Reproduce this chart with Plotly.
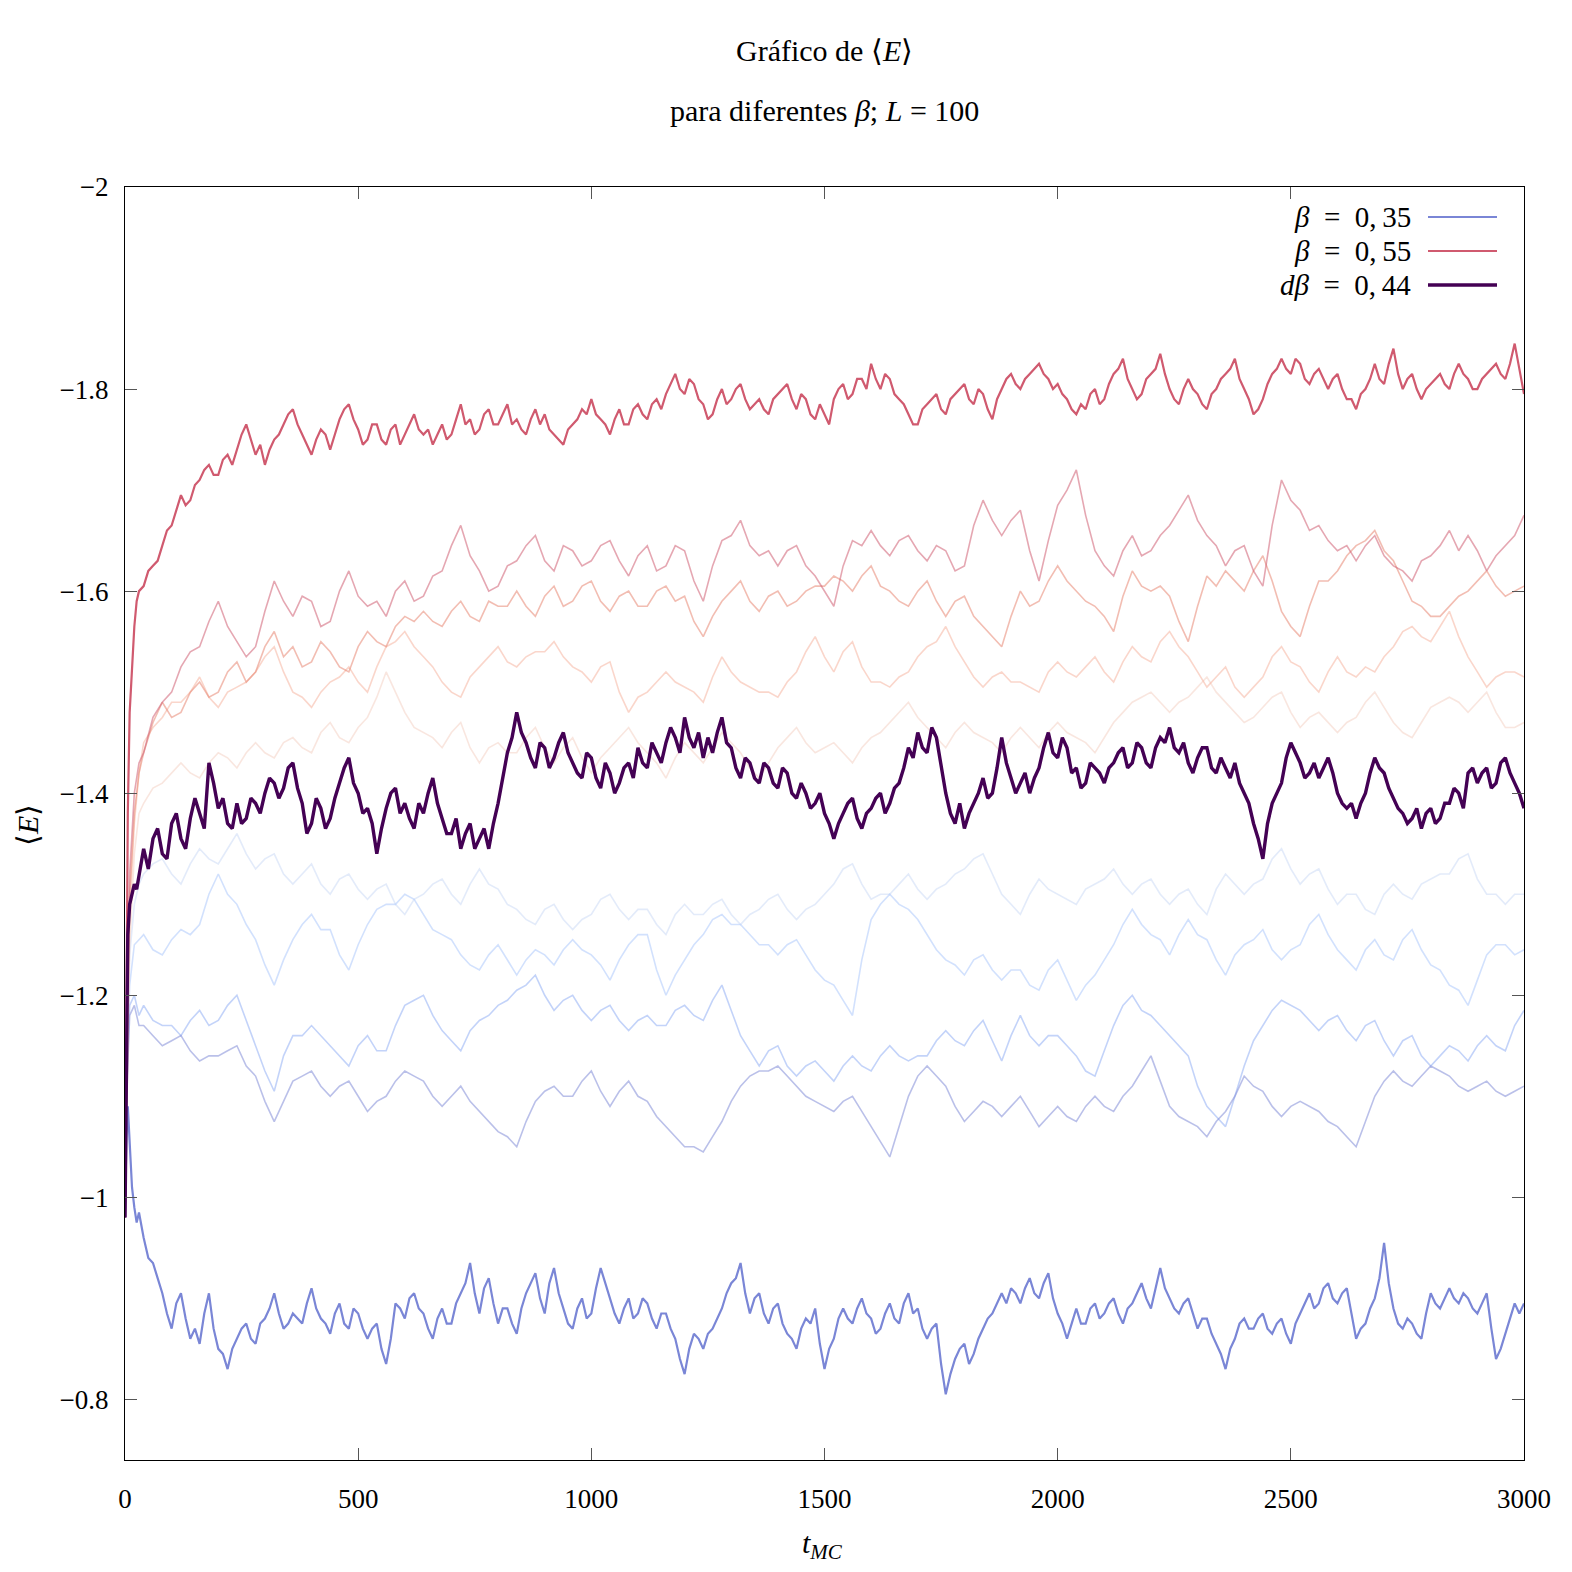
import numpy as np
import plotly.graph_objects as go

# ---------------- data ----------------
# main runs: early points, then values at t = 40, 60, ..., 3000 and the
# in-between excursions at t = 50, 70, ..., 2990
T_MAIN_EARLY = [0, 3, 6, 10, 15, 20, 25, 30]
# faint runs: early points, then t = 40, 80, ..., 3000 and t = 60, 100, ..., 2980
T_FADED_EARLY = [0, 5, 10, 20, 30]

E_B035 = [-0.98, -1.06, -1.09, -1.05, -1.01, -0.99, -0.975, -0.985,
          -0.96, -0.935, -0.905, -0.87, -0.905, -0.86, -0.855, -0.905, -0.85, -0.83,
          -0.86, -0.875, -0.855, -0.88, -0.905, -0.87, -0.885, -0.875, -0.91, -0.88,
          -0.865, -0.895, -0.87, -0.885, -0.86, -0.875, -0.835, -0.895, -0.88, -0.905,
          -0.885, -0.86, -0.89, -0.875, -0.905, -0.935, -0.885, -0.92, -0.875, -0.89,
          -0.865, -0.905, -0.925, -0.885, -0.93, -0.89, -0.87, -0.90, -0.885, -0.93,
          -0.90, -0.875, -0.90, -0.885, -0.895, -0.87, -0.885, -0.86, -0.825, -0.865,
          -0.85, -0.87, -0.89, -0.915, -0.935, -0.885, -0.905, -0.875, -0.895, -0.865,
          -0.85, -0.88, -0.89, -0.83, -0.86, -0.89, -0.875, -0.90, -0.88, -0.87,
          -0.895, -0.875, -0.905, -0.89, -0.86, -0.875, -0.805, -0.84, -0.855, -0.845,
          -0.87, -0.885, -0.905, -0.91, -0.895, -0.92, -0.90, -0.925, -0.885, -0.86,
          -0.89, -0.875, -0.895, -0.885, -0.90, -0.875, -0.895, -0.915, -0.89, -0.93,
          -0.90, -0.885, -0.90, -0.87, -0.88, -0.855, -0.83, -0.86, -0.88, -0.87,
          -0.885, -0.865, -0.88, -0.855, -0.885, -0.905, -0.895, -0.915, -0.895, -0.91,
          -0.86, -0.875, -0.90, -0.955, -0.89, -0.87, -0.875, -0.86, -0.905, -0.89,
          -0.91, -0.895, -0.90, -0.885, -0.905, -0.84, -0.865, -0.895, -0.895]
E_B035_MID = [-0.94, -0.92, -0.885, -0.895, -0.88, -0.87, -0.885, -0.87, -0.845, -0.85,
              -0.87, -0.86, -0.875, -0.89, -0.885, -0.875, -0.88, -0.895, -0.89, -0.875,
              -0.885, -0.875, -0.89, -0.87, -0.87, -0.85, -0.86, -0.89, -0.90, -0.89,
              -0.87, -0.88, -0.875, -0.895, -0.915, -0.905, -0.91, -0.895, -0.89, -0.875,
              -0.89, -0.915, -0.90, -0.915, -0.905, -0.875, -0.89, -0.88, -0.91, -0.915,
              -0.885, -0.89, -0.88, -0.90, -0.88, -0.885, -0.87, -0.84, -0.85, -0.86,
              -0.865, -0.88, -0.905, -0.92, -0.905, -0.90, -0.885, -0.89, -0.875, -0.86,
              -0.87, -0.875, -0.855, -0.85, -0.88, -0.88, -0.89, -0.885, -0.865, -0.885,
              -0.88, -0.895, -0.885, -0.87, -0.87, -0.835, -0.825, -0.85, -0.835, -0.86,
              -0.88, -0.895, -0.895, -0.905, -0.91, -0.905, -0.915, -0.90, -0.875, -0.875,
              -0.875, -0.89, -0.88, -0.895, -0.885, -0.89, -0.905, -0.90, -0.91, -0.91,
              -0.89, -0.895, -0.885, -0.88, -0.865, -0.845, -0.85, -0.875, -0.87, -0.88,
              -0.87, -0.875, -0.865, -0.875, -0.895, -0.89, -0.91, -0.90, -0.905, -0.885,
              -0.87, -0.89, -0.92, -0.915, -0.875, -0.88, -0.865, -0.885, -0.895, -0.90,
              -0.90, -0.905, -0.89, -0.895, -0.87, -0.85, -0.88, -0.885]

E_B055 = [-0.98, -1.22, -1.38, -1.48, -1.53, -1.565, -1.59, -1.60,
          -1.605, -1.625, -1.645, -1.665, -1.695, -1.69, -1.71, -1.725, -1.715, -1.735,
          -1.74, -1.765, -1.735, -1.725, -1.75, -1.765, -1.78, -1.755, -1.735, -1.76,
          -1.74, -1.77, -1.785, -1.76, -1.75, -1.765, -1.745, -1.765, -1.755, -1.775,
          -1.755, -1.745, -1.765, -1.755, -1.785, -1.77, -1.76, -1.78, -1.765, -1.785,
          -1.77, -1.755, -1.78, -1.775, -1.755, -1.745, -1.765, -1.78, -1.79, -1.77,
          -1.755, -1.78, -1.765, -1.785, -1.77, -1.79, -1.795, -1.815, -1.795, -1.805,
          -1.785, -1.775, -1.80, -1.79, -1.805, -1.78, -1.79, -1.775, -1.795, -1.805,
          -1.78, -1.79, -1.77, -1.775, -1.79, -1.805, -1.795, -1.81, -1.825, -1.80,
          -1.81, -1.79, -1.775, -1.765, -1.785, -1.795, -1.775, -1.795, -1.805, -1.785,
          -1.795, -1.77, -1.80, -1.815, -1.80, -1.815, -1.825, -1.81, -1.805, -1.79,
          -1.775, -1.78, -1.80, -1.79, -1.815, -1.83, -1.80, -1.795, -1.815, -1.835,
          -1.80, -1.785, -1.81, -1.795, -1.78, -1.80, -1.815, -1.83, -1.80, -1.775,
          -1.79, -1.815, -1.83, -1.815, -1.825, -1.805, -1.82, -1.80, -1.815, -1.79,
          -1.78, -1.80, -1.825, -1.805, -1.84, -1.80, -1.815, -1.79, -1.805, -1.815,
          -1.80, -1.825, -1.81, -1.80, -1.815, -1.825, -1.81, -1.845, -1.795]
E_B055_MID = [-1.62, -1.63, -1.66, -1.68, -1.685, -1.705, -1.72, -1.715, -1.73, -1.725,
              -1.755, -1.75, -1.745, -1.74, -1.755, -1.775, -1.765, -1.745, -1.75, -1.755,
              -1.755, -1.78, -1.77, -1.745, -1.765, -1.75, -1.76, -1.745, -1.765, -1.76,
              -1.76, -1.755, -1.75, -1.77, -1.765, -1.755, -1.775, -1.765, -1.775, -1.765,
              -1.76, -1.77, -1.765, -1.76, -1.75, -1.76, -1.77, -1.775, -1.775, -1.765,
              -1.77, -1.765, -1.78, -1.775, -1.785, -1.78, -1.805, -1.80, -1.81, -1.79,
              -1.77, -1.79, -1.785, -1.80, -1.79, -1.785, -1.78, -1.79, -1.80, -1.79,
              -1.795, -1.775, -1.785, -1.765, -1.80, -1.79, -1.81, -1.80, -1.81, -1.815,
              -1.795, -1.785, -1.765, -1.78, -1.79, -1.78, -1.79, -1.80, -1.79, -1.80,
              -1.78, -1.79, -1.81, -1.805, -1.81, -1.82, -1.815, -1.80, -1.795, -1.78,
              -1.785, -1.795, -1.785, -1.805, -1.82, -1.81, -1.79, -1.81, -1.82, -1.815,
              -1.79, -1.80, -1.80, -1.785, -1.795, -1.81, -1.82, -1.81, -1.79, -1.78,
              -1.805, -1.82, -1.82, -1.83, -1.81, -1.815, -1.81, -1.81, -1.80, -1.79,
              -1.795, -1.81, -1.81, -1.825, -1.815, -1.81, -1.80, -1.80, -1.81, -1.805,
              -1.815, -1.815, -1.80, -1.81, -1.82, -1.815, -1.825, -1.82]

E_DB044 = [-0.98, -1.12, -1.26, -1.29, -1.30, -1.31, -1.305, -1.32,
           -1.345, -1.355, -1.34, -1.37, -1.355, -1.375, -1.38, -1.43, -1.385, -1.37,
           -1.39, -1.375, -1.39, -1.40, -1.41, -1.405, -1.43, -1.39, -1.37, -1.385,
           -1.375, -1.41, -1.435, -1.40, -1.385, -1.34, -1.385, -1.405, -1.39, -1.365,
           -1.38, -1.415, -1.375, -1.36, -1.345, -1.37, -1.355, -1.345, -1.39, -1.44,
           -1.48, -1.45, -1.425, -1.445, -1.435, -1.46, -1.43, -1.415, -1.435, -1.405,
           -1.42, -1.41, -1.43, -1.445, -1.425, -1.44, -1.45, -1.455, -1.475, -1.445,
           -1.435, -1.44, -1.475, -1.445, -1.415, -1.43, -1.41, -1.425, -1.405, -1.42,
           -1.395, -1.40, -1.39, -1.38, -1.355, -1.38, -1.395, -1.365, -1.385, -1.40,
           -1.39, -1.41, -1.445, -1.46, -1.44, -1.455, -1.40, -1.37, -1.365, -1.39,
           -1.415, -1.40, -1.455, -1.415, -1.41, -1.40, -1.425, -1.46, -1.435, -1.445,
           -1.425, -1.41, -1.425, -1.41, -1.43, -1.445, -1.43, -1.445, -1.425, -1.455,
           -1.465, -1.44, -1.43, -1.435, -1.445, -1.42, -1.425, -1.43, -1.40, -1.37,
           -1.335, -1.39, -1.41, -1.45, -1.43, -1.42, -1.415, -1.435, -1.40, -1.385,
           -1.375, -1.40, -1.435, -1.42, -1.395, -1.38, -1.375, -1.365, -1.385, -1.375,
           -1.39, -1.40, -1.42, -1.41, -1.425, -1.41, -1.435, -1.41, -1.385]
E_DB044_MID = [-1.325, -1.365, -1.335, -1.38, -1.345, -1.395, -1.365, -1.41, -1.395, -1.365,
               -1.37, -1.395, -1.38, -1.415, -1.395, -1.425, -1.405, -1.36, -1.395, -1.365,
               -1.395, -1.425, -1.41, -1.38, -1.37, -1.365, -1.40, -1.38, -1.375, -1.39,
               -1.40, -1.39, -1.36, -1.375, -1.36, -1.345, -1.365, -1.37, -1.415, -1.455,
               -1.46, -1.435, -1.45, -1.425, -1.45, -1.44, -1.42, -1.44, -1.415, -1.43,
               -1.40, -1.425, -1.415, -1.43, -1.45, -1.43, -1.465, -1.44, -1.455, -1.46,
               -1.455, -1.46, -1.45, -1.425, -1.435, -1.415, -1.43, -1.41, -1.425, -1.40,
               -1.41, -1.385, -1.40, -1.37, -1.37, -1.39, -1.375, -1.38, -1.395, -1.38,
               -1.405, -1.425, -1.435, -1.445, -1.465, -1.425, -1.38, -1.39, -1.38, -1.40,
               -1.395, -1.425, -1.43, -1.40, -1.42, -1.415, -1.445, -1.44, -1.455, -1.42,
               -1.405, -1.43, -1.42, -1.425, -1.44, -1.425, -1.45, -1.43, -1.445, -1.45,
               -1.445, -1.45, -1.42, -1.445, -1.425, -1.435, -1.415, -1.41, -1.39, -1.355,
               -1.37, -1.40, -1.435, -1.44, -1.415, -1.43, -1.425, -1.42, -1.39, -1.39,
               -1.39, -1.42, -1.425, -1.405, -1.385, -1.37, -1.385, -1.38, -1.37, -1.39,
               -1.405, -1.385, -1.425, -1.42, -1.405, -1.43, -1.42, -1.40]

# intermediate betas (faint background runs)
E_R1 = [-0.98, -1.20, -1.32, -1.40, -1.43,
        -1.44, -1.49, -1.525, -1.545, -1.59, -1.55, -1.545, -1.61, -1.575, -1.59,
        -1.57, -1.62, -1.585, -1.575, -1.61, -1.595, -1.62, -1.665, -1.62, -1.605,
        -1.63, -1.655, -1.62, -1.64, -1.63, -1.65, -1.615, -1.645, -1.625, -1.64,
        -1.59, -1.65, -1.67, -1.635, -1.625, -1.645, -1.615, -1.585, -1.65, -1.66,
        -1.635, -1.655, -1.63, -1.64, -1.625, -1.69, -1.655, -1.68, -1.61, -1.685,
        -1.72, -1.64, -1.615, -1.655, -1.64, -1.665, -1.695, -1.655, -1.625, -1.645,
        -1.605, -1.71, -1.68, -1.665, -1.64, -1.63, -1.655, -1.625, -1.61, -1.635,
        -1.66, -1.655, -1.62, -1.645, -1.675]
E_R1_MID = [-1.475, -1.50, -1.54, -1.57, -1.565, -1.535, -1.58, -1.59, -1.595, -1.565,
            -1.60, -1.595, -1.59, -1.60, -1.59, -1.615, -1.645, -1.635, -1.60, -1.625,
            -1.645, -1.63, -1.645, -1.625, -1.645, -1.63, -1.635, -1.62, -1.645, -1.61,
            -1.625, -1.655, -1.645, -1.64, -1.64, -1.625, -1.60, -1.625, -1.645, -1.645,
            -1.65, -1.64, -1.645, -1.62, -1.665, -1.67, -1.67, -1.64, -1.65, -1.70,
            -1.675, -1.625, -1.64, -1.635, -1.655, -1.68, -1.67, -1.645, -1.64, -1.62,
            -1.665, -1.69, -1.66, -1.65, -1.645, -1.645, -1.635, -1.62, -1.63, -1.645,
            -1.64, -1.64, -1.635, -1.655]
E_R2 = [-0.98, -1.18, -1.30, -1.38, -1.42,
        -1.44, -1.49, -1.48, -1.51, -1.50, -1.53, -1.52, -1.56, -1.545, -1.53,
        -1.54, -1.52, -1.56, -1.545, -1.575, -1.58, -1.565, -1.59, -1.57, -1.585,
        -1.60, -1.575, -1.605, -1.59, -1.61, -1.58, -1.60, -1.585, -1.605, -1.595,
        -1.555, -1.59, -1.61, -1.58, -1.60, -1.59, -1.605, -1.615, -1.60, -1.625,
        -1.60, -1.585, -1.61, -1.575, -1.595, -1.565, -1.545, -1.60, -1.59, -1.625,
        -1.60, -1.585, -1.56, -1.62, -1.60, -1.595, -1.55, -1.615, -1.62, -1.60,
        -1.635, -1.58, -1.555, -1.61, -1.62, -1.645, -1.66, -1.63, -1.59, -1.575,
        -1.585, -1.60, -1.62, -1.595, -1.605]
E_R2_MID = [-1.47, -1.475, -1.50, -1.495, -1.52, -1.51, -1.545, -1.535, -1.525, -1.55,
            -1.525, -1.545, -1.55, -1.565, -1.57, -1.57, -1.58, -1.575, -1.59, -1.585,
            -1.585, -1.595, -1.585, -1.605, -1.59, -1.595, -1.585, -1.60, -1.59, -1.57,
            -1.575, -1.60, -1.59, -1.595, -1.585, -1.60, -1.605, -1.61, -1.615, -1.605,
            -1.59, -1.60, -1.59, -1.59, -1.575, -1.555, -1.575, -1.585, -1.61, -1.61,
            -1.59, -1.575, -1.595, -1.605, -1.605, -1.57, -1.585, -1.605, -1.61, -1.62,
            -1.61, -1.565, -1.585, -1.61, -1.635, -1.65, -1.64, -1.61, -1.585, -1.575,
            -1.595, -1.61, -1.605, -1.60]
E_R3 = [-0.98, -1.15, -1.28, -1.37, -1.42,
        -1.45, -1.475, -1.49, -1.515, -1.485, -1.505, -1.52, -1.545, -1.50, -1.485,
        -1.51, -1.525, -1.50, -1.545, -1.56, -1.535, -1.51, -1.495, -1.525, -1.545,
        -1.525, -1.54, -1.55, -1.525, -1.51, -1.53, -1.48, -1.50, -1.52, -1.505,
        -1.49, -1.535, -1.51, -1.50, -1.495, -1.52, -1.555, -1.52, -1.55, -1.51,
        -1.505, -1.52, -1.545, -1.565, -1.53, -1.505, -1.52, -1.51, -1.50, -1.53,
        -1.515, -1.535, -1.51, -1.545, -1.53, -1.56, -1.535, -1.505, -1.525, -1.495,
        -1.515, -1.545, -1.525, -1.50, -1.535, -1.515, -1.52, -1.545, -1.565, -1.55,
        -1.58, -1.535, -1.505, -1.52, -1.515]
E_R3_MID = [-1.465, -1.49, -1.50, -1.495, -1.50, -1.51, -1.535, -1.52, -1.495, -1.50,
            -1.515, -1.51, -1.525, -1.55, -1.545, -1.525, -1.50, -1.515, -1.535, -1.53,
            -1.535, -1.54, -1.535, -1.52, -1.525, -1.50, -1.495, -1.51, -1.51, -1.50,
            -1.515, -1.52, -1.505, -1.50, -1.51, -1.54, -1.535, -1.54, -1.525, -1.51,
            -1.515, -1.535, -1.55, -1.545, -1.515, -1.515, -1.51, -1.505, -1.52, -1.52,
            -1.525, -1.52, -1.53, -1.535, -1.55, -1.545, -1.52, -1.515, -1.505, -1.505,
            -1.535, -1.53, -1.51, -1.52, -1.52, -1.525, -1.535, -1.56, -1.555, -1.565,
            -1.555, -1.52, -1.515, -1.52]
E_R4 = [-0.98, -1.12, -1.25, -1.34, -1.38,
        -1.39, -1.41, -1.43, -1.415, -1.44, -1.425, -1.45, -1.435, -1.455, -1.44,
        -1.47, -1.45, -1.475, -1.52, -1.48, -1.46, -1.445, -1.47, -1.43, -1.45,
        -1.44, -1.465, -1.43, -1.455, -1.42, -1.445, -1.465, -1.44, -1.415, -1.45,
        -1.43, -1.46, -1.44, -1.415, -1.445, -1.465, -1.44, -1.45, -1.43, -1.455,
        -1.47, -1.49, -1.465, -1.445, -1.47, -1.455, -1.44, -1.465, -1.445, -1.47,
        -1.455, -1.44, -1.47, -1.49, -1.50, -1.48, -1.495, -1.515, -1.49, -1.47,
        -1.485, -1.50, -1.465, -1.48, -1.46, -1.475, -1.50, -1.47, -1.455, -1.485,
        -1.495, -1.48, -1.50, -1.465, -1.47]
E_R4_MID = [-1.405, -1.42, -1.42, -1.43, -1.435, -1.44, -1.44, -1.45, -1.445, -1.46,
            -1.455, -1.465, -1.495, -1.50, -1.465, -1.455, -1.46, -1.445, -1.445, -1.44,
            -1.455, -1.445, -1.445, -1.435, -1.435, -1.455, -1.45, -1.43, -1.435, -1.44,
            -1.445, -1.45, -1.425, -1.43, -1.455, -1.45, -1.445, -1.44, -1.445, -1.46,
            -1.48, -1.475, -1.455, -1.46, -1.46, -1.45, -1.455, -1.455, -1.46, -1.46,
            -1.45, -1.455, -1.48, -1.495, -1.49, -1.49, -1.505, -1.50, -1.48, -1.475,
            -1.495, -1.48, -1.475, -1.47, -1.47, -1.49, -1.485, -1.46, -1.47, -1.49,
            -1.49, -1.49, -1.48, -1.465]
E_C1 = [-0.98, -1.15, -1.24, -1.29, -1.31,
        -1.32, -1.335, -1.31, -1.345, -1.33, -1.36, -1.325, -1.34, -1.31, -1.33,
        -1.30, -1.32, -1.295, -1.31, -1.28, -1.30, -1.315, -1.29, -1.325, -1.305,
        -1.285, -1.27, -1.29, -1.265, -1.28, -1.30, -1.275, -1.285, -1.26, -1.29,
        -1.28, -1.295, -1.27, -1.285, -1.30, -1.275, -1.29, -1.31, -1.33, -1.295,
        -1.30, -1.32, -1.295, -1.31, -1.325, -1.34, -1.30, -1.28, -1.315, -1.30,
        -1.29, -1.31, -1.325, -1.30, -1.315, -1.29, -1.305, -1.28, -1.32, -1.30,
        -1.315, -1.345, -1.31, -1.325, -1.29, -1.30, -1.28, -1.31, -1.295, -1.315,
        -1.32, -1.34, -1.30, -1.29, -1.30]
E_C1_MID = [-1.33, -1.32, -1.33, -1.335, -1.345, -1.34, -1.335, -1.32, -1.32, -1.31,
            -1.315, -1.305, -1.305, -1.29, -1.295, -1.31, -1.30, -1.31, -1.31, -1.29,
            -1.275, -1.285, -1.275, -1.275, -1.295, -1.285, -1.285, -1.27, -1.28, -1.28,
            -1.29, -1.28, -1.28, -1.295, -1.285, -1.285, -1.30, -1.325, -1.31, -1.30,
            -1.31, -1.305, -1.305, -1.32, -1.335, -1.32, -1.29, -1.30, -1.305, -1.295,
            -1.305, -1.315, -1.31, -1.31, -1.30, -1.30, -1.29, -1.305, -1.31, -1.31,
            -1.335, -1.325, -1.32, -1.305, -1.30, -1.285, -1.30, -1.30, -1.31, -1.32,
            -1.335, -1.315, -1.30, -1.30]
E_C2 = [-0.98, -1.14, -1.21, -1.25, -1.255,
        -1.26, -1.24, -1.265, -1.27, -1.32, -1.29, -1.255, -1.21, -1.255, -1.28,
        -1.265, -1.225, -1.27, -1.29, -1.30, -1.28, -1.26, -1.24, -1.225, -1.25,
        -1.22, -1.245, -1.23, -1.255, -1.24, -1.215, -1.25, -1.26, -1.20, -1.235,
        -1.26, -1.28, -1.27, -1.25, -1.24, -1.255, -1.225, -1.21, -1.18, -1.275,
        -1.30, -1.285, -1.26, -1.235, -1.22, -1.24, -1.215, -1.225, -1.205, -1.235,
        -1.195, -1.22, -1.25, -1.285, -1.26, -1.24, -1.275, -1.255, -1.22, -1.25,
        -1.265, -1.235, -1.25, -1.28, -1.245, -1.225, -1.255, -1.235, -1.265, -1.23,
        -1.21, -1.19, -1.24, -1.25, -1.245]
E_C2_MID = [-1.245, -1.255, -1.26, -1.30, -1.30, -1.27, -1.23, -1.235, -1.27, -1.265,
            -1.24, -1.25, -1.285, -1.29, -1.295, -1.265, -1.255, -1.23, -1.24, -1.235,
            -1.235, -1.24, -1.245, -1.245, -1.23, -1.235, -1.26, -1.225, -1.22, -1.25,
            -1.275, -1.27, -1.26, -1.25, -1.25, -1.24, -1.215, -1.195, -1.235, -1.29,
            -1.29, -1.275, -1.245, -1.23, -1.235, -1.225, -1.225, -1.21, -1.225, -1.215,
            -1.21, -1.235, -1.27, -1.27, -1.255, -1.26, -1.26, -1.235, -1.24, -1.255,
            -1.245, -1.245, -1.27, -1.26, -1.235, -1.245, -1.24, -1.255, -1.245, -1.225,
            -1.205, -1.215, -1.25, -1.24]
E_C3 = [-0.98, -1.13, -1.19, -1.20, -1.18,
        -1.19, -1.17, -1.16, -1.185, -1.175, -1.20, -1.15, -1.105, -1.16, -1.17,
        -1.15, -1.13, -1.16, -1.145, -1.19, -1.20, -1.165, -1.145, -1.175, -1.19,
        -1.205, -1.22, -1.185, -1.20, -1.175, -1.19, -1.165, -1.18, -1.17, -1.19,
        -1.175, -1.21, -1.16, -1.13, -1.15, -1.12, -1.135, -1.115, -1.14, -1.125,
        -1.15, -1.135, -1.14, -1.165, -1.15, -1.175, -1.135, -1.18, -1.15, -1.16,
        -1.14, -1.12, -1.17, -1.20, -1.18, -1.16, -1.14, -1.09, -1.07, -1.13,
        -1.17, -1.195, -1.185, -1.165, -1.18, -1.155, -1.175, -1.14, -1.16, -1.13,
        -1.15, -1.135, -1.16, -1.145, -1.185]
E_C3_MID = [-1.175, -1.17, -1.175, -1.17, -1.19, -1.175, -1.125, -1.14, -1.16, -1.16,
            -1.14, -1.15, -1.145, -1.17, -1.195, -1.18, -1.155, -1.165, -1.18, -1.195,
            -1.21, -1.20, -1.195, -1.185, -1.185, -1.175, -1.175, -1.17, -1.185, -1.18,
            -1.195, -1.185, -1.145, -1.145, -1.13, -1.13, -1.125, -1.13, -1.13, -1.14,
            -1.14, -1.14, -1.155, -1.155, -1.165, -1.155, -1.16, -1.16, -1.16, -1.15,
            -1.125, -1.145, -1.19, -1.185, -1.17, -1.15, -1.11, -1.08, -1.10, -1.155,
            -1.185, -1.19, -1.175, -1.175, -1.165, -1.17, -1.155, -1.155, -1.14, -1.14,
            -1.145, -1.15, -1.15, -1.17]
E_C4 = [-0.98, -1.12, -1.18, -1.19, -1.17,
        -1.17, -1.15, -1.16, -1.135, -1.14, -1.15, -1.12, -1.075, -1.115, -1.125,
        -1.10, -1.115, -1.085, -1.10, -1.125, -1.115, -1.09, -1.11, -1.085, -1.065,
        -1.05, -1.095, -1.11, -1.10, -1.125, -1.09, -1.115, -1.095, -1.07, -1.05,
        -1.045, -1.075, -1.11, -1.125, -1.13, -1.11, -1.095, -1.085, -1.10, -1.07,
        -1.04, -1.10, -1.13, -1.11, -1.075, -1.095, -1.08, -1.10, -1.07, -1.09,
        -1.075, -1.10, -1.085, -1.11, -1.14, -1.09, -1.075, -1.06, -1.085, -1.12,
        -1.105, -1.08, -1.095, -1.085, -1.07, -1.05, -1.10, -1.125, -1.11, -1.13,
        -1.12, -1.105, -1.115, -1.10, -1.11]
E_C4_MID = [-1.16, -1.155, -1.145, -1.14, -1.145, -1.13, -1.095, -1.095, -1.12, -1.11,
            -1.11, -1.10, -1.095, -1.115, -1.12, -1.10, -1.10, -1.095, -1.075, -1.06,
            -1.075, -1.105, -1.10, -1.115, -1.105, -1.105, -1.10, -1.08, -1.06, -1.05,
            -1.06, -1.095, -1.12, -1.125, -1.12, -1.10, -1.09, -1.095, -1.085, -1.055,
            -1.07, -1.12, -1.12, -1.09, -1.085, -1.09, -1.09, -1.085, -1.08, -1.08,
            -1.09, -1.09, -1.10, -1.125, -1.115, -1.08, -1.07, -1.075, -1.10, -1.11,
            -1.09, -1.09, -1.09, -1.075, -1.06, -1.075, -1.115, -1.115, -1.12, -1.125,
            -1.11, -1.11, -1.105, -1.105]

LEGEND_LABELS = ["<i>β</i>\u2002=\u20020,\u200935", "<i>β</i>\u2002=\u20020,\u200955",
                 "<i>dβ</i>\u2002=\u20020,\u200944"]
X_TICKS = [0, 500, 1000, 1500, 2000, 2500, 3000]
Y_TICKS = [-2, -1.8, -1.6, -1.4, -1.2, -1, -0.8]


def series(early, vals, mids, step):
    """Merge the regular samples and the in-between samples by time."""
    n = len(vals) - len(early)
    t_reg = list(np.linspace(40, 3000, n))
    t_mid = list(np.linspace(40 + step / 2, 3000 - step / 2, len(mids)))
    t = list(early) + t_reg + t_mid
    e = list(vals) + list(mids)
    order = np.argsort(t, kind="stable")
    return [t[i] for i in order], [e[i] for i in order]


FONT = "Liberation Serif"
fig = go.Figure()

faded = [
    (E_C1, E_C1_MID, "rgba(200,215,245,0.5)"),
    (E_C2, E_C2_MID, "rgba(180,205,252,0.6)"),
    (E_C3, E_C3_MID, "rgba(155,182,245,0.6)"),
    (E_C4, E_C4_MID, "rgba(130,140,215,0.55)"),
    (E_R4, E_R4_MID, "rgba(242,200,185,0.45)"),
    (E_R3, E_R3_MID, "rgba(246,180,160,0.55)"),
    (E_R2, E_R2_MID, "rgba(232,135,115,0.55)"),
    (E_R1, E_R1_MID, "rgba(208,95,115,0.55)"),
]
for vals, mids, col in faded:
    t, e = series(T_FADED_EARLY, vals, mids, 40)
    fig.add_trace(go.Scatter(x=t, y=e, mode="lines",
                             line=dict(color=col, width=1.6), showlegend=False,
                             hoverinfo="skip"))

main = [
    (E_B035, E_B035_MID, "#7a86d6", 2.2),
    (E_B055, E_B055_MID, "#d05a6f", 2.2),
    (E_DB044, E_DB044_MID, "#440154", 3.4),
]
for vals, mids, col, w in main:
    t, e = series(T_MAIN_EARLY, vals, mids, 20)
    fig.add_trace(go.Scatter(x=t, y=e, mode="lines",
                             line=dict(color=col, width=w), showlegend=False))

# plot area geometry in pixels
L, R, T, B = 125, 1524, 187, 1460
W, H = R - L, B - T


def px(x):
    return (x - L) / W


def py(y):
    return (B - y) / H


# gnuplot-like legend: text on the left, sample line on the right
for i, (lab, (_, _, col, w)) in enumerate(zip(LEGEND_LABELS, main)):
    yy = py(217 + i * 34)
    fig.add_annotation(x=px(1413), y=yy, xref="paper", yref="paper", text=lab,
                       showarrow=False, xanchor="right", yanchor="middle",
                       font=dict(family=FONT, size=29, color="black"))
    fig.add_shape(type="line", xref="paper", yref="paper", x0=px(1428), x1=px(1497),
                  y0=yy, y1=yy, line=dict(color=col, width=w))

fig.add_annotation(x=0.5, y=py(50), xref="paper", yref="paper",
                   text="Gráfico de ⟨<i>E</i>⟩", showarrow=False,
                   xanchor="center", yanchor="middle",
                   font=dict(family=FONT, size=30, color="black"))
fig.add_annotation(x=0.5, y=py(110), xref="paper", yref="paper",
                   text="para diferentes <i>β</i>; <i>L</i> = 100", showarrow=False,
                   xanchor="center", yanchor="middle",
                   font=dict(family=FONT, size=30, color="black"))
fig.add_annotation(x=px(28), y=py(825), xref="paper", yref="paper",
                   text="⟨<i>E</i>⟩", textangle=-90, showarrow=False,
                   xanchor="center", yanchor="middle",
                   font=dict(family=FONT, size=30, color="black"))
fig.add_annotation(x=px(822), y=py(1545), xref="paper", yref="paper",
                   text="<i>t</i><sub><i>MC</i></sub>", showarrow=False,
                   xanchor="center", yanchor="middle",
                   font=dict(family=FONT, size=30, color="black"))

axis_common = dict(showgrid=False, zeroline=False, showline=True, linecolor="black",
                   linewidth=1.3, ticks="inside", ticklen=12, tickwidth=1,
                   tickcolor="#555", mirror="ticks",
                   tickfont=dict(family=FONT, size=27, color="black"))
fig.update_xaxes(range=[0, 3000], tickvals=X_TICKS, ticklabelstandoff=14, **axis_common)
fig.update_yaxes(range=[-0.74, -2], tickvals=Y_TICKS, ticklabelstandoff=10, **axis_common)

fig.update_layout(width=1572, height=1572, plot_bgcolor="white", paper_bgcolor="white",
                  margin=dict(l=L, r=1572 - R, t=T, b=1572 - B, autoexpand=False),
                  showlegend=False)

fig.write_html("out.html")
